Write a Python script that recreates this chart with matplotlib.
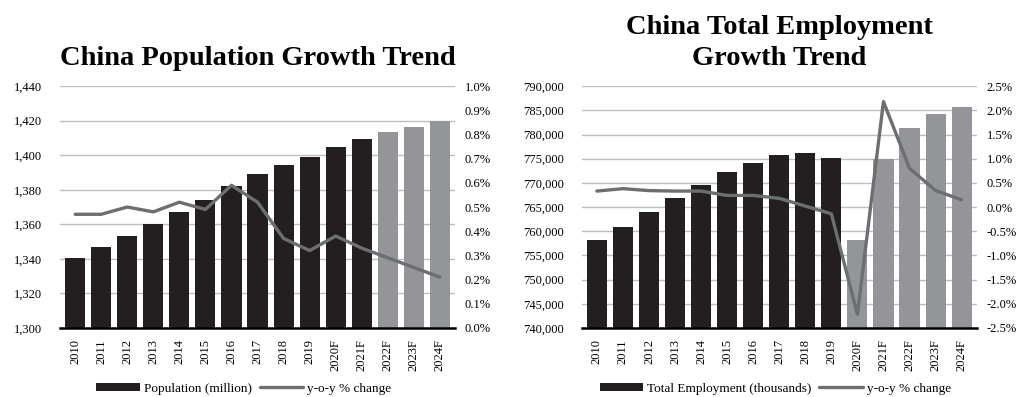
import matplotlib.pyplot as plt
from matplotlib.ticker import FuncFormatter

plt.rcParams['font.family'] = ['Liberation Serif', 'DejaVu Serif']

BAR_DARK = '#231f20'
BAR_LIGHT = '#939598'
LINE_COL = '#6d6e71'
GRID_COL = '#bcbec0'

years = ['2010', '2011', '2012', '2013', '2014', '2015', '2016', '2017',
         '2018', '2019', '2020F', '2021F', '2022F', '2023F', '2024F']

# population, million
population = [1340.5, 1346.7, 1353.5, 1360.2, 1367.2, 1374.0, 1382.0, 1389.3,
              1394.5, 1399.2, 1404.5, 1409.2, 1413.2, 1416.5, 1419.6]
population_yoy = [0.47, 0.47, 0.50, 0.48, 0.52, 0.49, 0.59, 0.52,
                  0.37, 0.32, 0.38, 0.33, 0.29, 0.25, 0.21]
population_first_forecast = 12

# total employment, thousands
employment = [758100, 760800, 764000, 766800, 769500, 772300, 774200, 775700,
              776100, 775100, 758200, 774900, 781300, 784300, 785700]
employment_yoy = [0.33, 0.38, 0.34, 0.33, 0.33, 0.24, 0.24, 0.18,
                  0.02, -0.14, -2.22, 2.18, 0.80, 0.34, 0.15]
employment_first_forecast = 10


def draw_panel(ax, values, yoy, first_fc, ylim, ystep, y2lim, y2step,
               title, bar_label, legend_x):
    x = list(range(len(years)))
    colors = [BAR_DARK if i < first_fc else BAR_LIGHT for i in x]
    bars = ax.bar(x, [v - ylim[0] for v in values], bottom=ylim[0], width=0.77,
                  color=colors, zorder=2, label=bar_label)
    ax.set_ylim(*ylim)
    ax.set_xlim(-0.58, len(years) - 0.42)
    ticks = []
    t = ylim[0]
    while t <= ylim[1] + 1e-9:
        ticks.append(t)
        t += ystep
    ax.set_yticks(ticks)
    ax.yaxis.set_major_formatter(FuncFormatter(lambda v, p: f'{v:,.0f}'))
    ax.grid(axis='y', color=GRID_COL, linewidth=1.0, zorder=0)
    ax.set_axisbelow(True)
    for s in ['top', 'left', 'right']:
        ax.spines[s].set_visible(False)
    ax.spines['bottom'].set_linewidth(1.8)
    ax.spines['bottom'].set_color('black')
    ax.spines['bottom'].set_zorder(3)
    ax.set_xticks(x)
    ax.set_xticklabels(years, rotation=90, fontsize=9)
    ax.tick_params(axis='both', length=0, labelsize=9)
    ax.tick_params(axis='y', pad=13)
    ax.tick_params(axis='x', pad=8)

    ax2 = ax.twinx()
    line, = ax2.plot(x, yoy, color=LINE_COL, linewidth=2.4, zorder=4,
                     solid_capstyle='round', label='y-o-y % change')
    ax2.set_ylim(*y2lim)
    ticks2 = []
    t = y2lim[0]
    while t <= y2lim[1] + 1e-9:
        ticks2.append(round(t, 2))
        t += y2step
    ax2.set_yticks(ticks2)
    ax2.yaxis.set_major_formatter(FuncFormatter(lambda v, p: f'{v:.1f}%'))
    ax2.tick_params(axis='y', length=0, labelsize=9, pad=7)
    for s in ['top', 'left', 'right', 'bottom']:
        ax2.spines[s].set_visible(False)

    ax.set_title(title, fontsize=20.5, fontweight='bold', pad=15, linespacing=1.32)
    ax.legend([bars, line], [bar_label, 'y-o-y % change'],
              loc='center', bbox_to_anchor=(legend_x, -0.252), ncol=2,
              frameon=False, fontsize=9.5, handlelength=3.3, handleheight=0.6,
              columnspacing=0.6, handletextpad=0.3, borderpad=0.1)


fig = plt.figure(figsize=(10.26, 3.97), dpi=100)
ax_l = fig.add_axes([0.0585, 0.174, 0.385, 0.609])
ax_r = fig.add_axes([0.567, 0.174, 0.385, 0.609])

draw_panel(ax_l, population, population_yoy, population_first_forecast,
           (1300, 1440), 20, (0.0, 1.0), 0.1,
           'China Population Growth Trend', 'Population (million)', 0.465)
draw_panel(ax_r, employment, employment_yoy, employment_first_forecast,
           (740000, 790000), 5000, (-2.5, 2.5), 0.5,
           'China Total Employment\nGrowth Trend', 'Total Employment (thousands)',
           0.49)

fig.savefig('out.png', dpi=100)
